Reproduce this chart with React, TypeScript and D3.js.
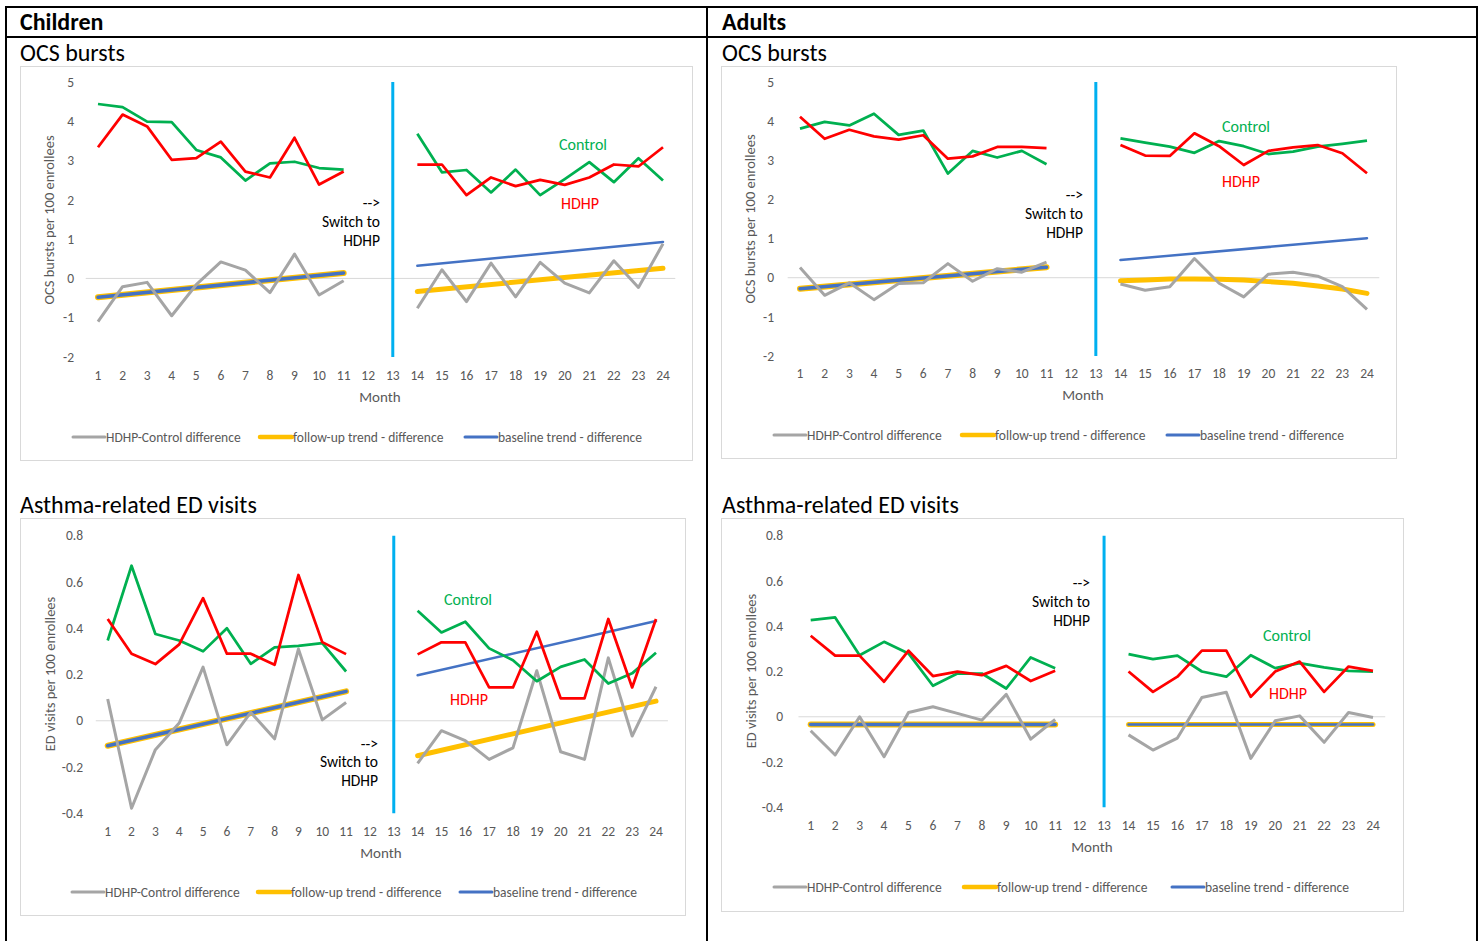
import React from "react";
import * as d3 from "d3";

const MONTHS = d3.range(1, 25);
const PRE_MONTHS = d3.range(1, 12);
const POST_MONTHS = d3.range(14, 25);

// ---------- Children: OCS bursts ----------
const C_OCS_HDHP_PRE = [3.34, 4.17, 3.87, 3.02, 3.06, 3.48, 2.72, 2.57, 3.58, 2.39, 2.72];
const C_OCS_HDHP_POST = [2.9, 2.9, 2.12, 2.57, 2.35, 2.51, 2.38, 2.57, 2.9, 2.85, 3.34];
const C_OCS_CTRL_PRE = [4.44, 4.36, 3.99, 3.98, 3.27, 3.08, 2.49, 2.93, 2.97, 2.81, 2.77];
const C_OCS_CTRL_POST = [3.68, 2.7, 2.76, 2.19, 2.77, 2.12, 2.53, 2.96, 2.45, 3.06, 2.49];
const C_OCS_DIFF_PRE = [-1.1, -0.21, -0.1, -0.95, -0.16, 0.42, 0.21, -0.36, 0.62, -0.42, -0.06];
const C_OCS_DIFF_POST = [-0.76, 0.22, -0.59, 0.39, -0.47, 0.41, -0.12, -0.37, 0.45, -0.23, 0.88];
const C_OCS_BASE = [[1, -0.48], [11, 0.14], [14, 0.32], [24, 0.93]];
const C_OCS_FOLLOW = [[1, -0.48], [11, 0.14], [14, -0.33], [24, 0.26]];

// ---------- Adults: OCS bursts ----------
const A_OCS_HDHP_PRE = [4.11, 3.55, 3.78, 3.61, 3.53, 3.64, 3.04, 3.1, 3.34, 3.34, 3.31];
const A_OCS_HDHP_POST = [3.39, 3.12, 3.11, 3.69, 3.36, 2.88, 3.24, 3.33, 3.39, 3.18, 2.67];
const A_OCS_CTRL_PRE = [3.81, 3.98, 3.89, 4.19, 3.65, 3.76, 2.66, 3.24, 3.07, 3.24, 2.9];
const A_OCS_CTRL_POST = [3.56, 3.45, 3.35, 3.19, 3.49, 3.36, 3.16, 3.22, 3.35, 3.42, 3.5];
const A_OCS_DIFF_PRE = [0.26, -0.45, -0.13, -0.56, -0.15, -0.13, 0.36, -0.09, 0.23, 0.14, 0.4];
const A_OCS_DIFF_POST = [-0.16, -0.32, -0.23, 0.49, -0.14, -0.49, 0.09, 0.14, 0.04, -0.23, -0.81];
const A_OCS_BASE = [[1, -0.28], [11, 0.27], [14, 0.45], [24, 1.01]];
const A_OCS_FOLLOW_PRE = [[1, -0.28], [11, 0.27]];
const A_OCS_FOLLOW_POST = [-0.08, -0.06, -0.03, -0.03, -0.04, -0.06, -0.1, -0.14, -0.21, -0.29, -0.4];

// ---------- Children: Asthma-related ED visits ----------
const C_ED_HDHP_PRE = [0.44, 0.29, 0.245, 0.33, 0.53, 0.29, 0.29, 0.242, 0.63, 0.34, 0.288];
const C_ED_HDHP_POST = [0.287, 0.339, 0.339, 0.144, 0.144, 0.385, 0.097, 0.097, 0.44, 0.144, 0.44];
const C_ED_CTRL_PRE = [0.347, 0.67, 0.375, 0.347, 0.3, 0.4, 0.246, 0.317, 0.324, 0.336, 0.213];
const C_ED_CTRL_POST = [0.476, 0.382, 0.428, 0.313, 0.262, 0.171, 0.233, 0.265, 0.161, 0.205, 0.294];
const C_ED_DIFF_PRE = [0.094, -0.378, -0.125, -0.01, 0.232, -0.104, 0.036, -0.078, 0.31, 0.004, 0.079];
const C_ED_DIFF_POST = [-0.184, -0.043, -0.086, -0.167, -0.117, 0.216, -0.134, -0.167, 0.272, -0.066, 0.147];
const C_ED_BASE = [[1, -0.108], [11, 0.127], [14, 0.197], [24, 0.431]];
const C_ED_FOLLOW = [[1, -0.108], [11, 0.127], [14, -0.151], [24, 0.085]];

// ---------- Adults: Asthma-related ED visits ----------
const A_ED_HDHP_PRE = [0.358, 0.27, 0.27, 0.155, 0.292, 0.18, 0.199, 0.184, 0.225, 0.158, 0.203];
const A_ED_HDHP_POST = [0.2, 0.11, 0.177, 0.292, 0.292, 0.088, 0.2, 0.244, 0.11, 0.222, 0.203];
const A_ED_CTRL_PRE = [0.427, 0.439, 0.272, 0.331, 0.28, 0.137, 0.191, 0.191, 0.125, 0.262, 0.214];
const A_ED_CTRL_POST = [0.277, 0.255, 0.27, 0.2, 0.177, 0.272, 0.215, 0.237, 0.218, 0.203, 0.199];
const A_ED_DIFF_PRE = [-0.062, -0.169, 0.0, -0.177, 0.019, 0.044, 0.015, -0.015, 0.099, -0.099, -0.012];
const A_ED_DIFF_POST = [-0.08, -0.147, -0.094, 0.085, 0.108, -0.184, -0.018, 0.004, -0.113, 0.019, -0.003];
const A_ED_BASE = [[1, -0.034], [11, -0.034], [14, -0.034], [24, -0.034]];
const A_ED_FOLLOW = [[1, -0.034], [11, -0.034], [14, -0.034], [24, -0.034]];

const OCS_TICKS = [-2, -1, 0, 1, 2, 3, 4, 5];
const ED_TICKS = [-0.4, -0.2, 0, 0.2, 0.4, 0.6, 0.8];

const LEGEND = ["HDHP-Control difference", "follow-up trend - difference", "baseline trend - difference"];

const COLORS = {
  hdhp: "#FF0000",
  ctrl: "#00B050",
  diff: "#A5A5A5",
  follow: "#FFC000",
  base: "#4472C4",
  switch: "#00B0F0",
  tick: "#595959",
  grid: "#D9D9D9",
};

const FONT = "Carlito, Lato, 'Open Sans', sans-serif";

type Pt = [number, number];
const pre = (vals: number[]): Pt[] => vals.map((v, i) => [PRE_MONTHS[i], v]);
const post = (vals: number[]): Pt[] => vals.map((v, i) => [POST_MONTHS[i], v]);

interface PanelCfg {
  box: [number, number, number, number];
  xr: [number, number];
  yd: [number, number];
  yr: [number, number];
  ticks: number[];
  tickRight: number;
  monthY: number;
  monthTitle: [number, number];
  yTitle: string;
  yTitlePos: [number, number];
  legendY: number;
  legendX: number[];
  notes: [number, number, number, number];
  ctrlLabel: [number, number];
  hdhpLabel: [number, number];
  hdhp: [number[], number[]];
  ctrl: [number[], number[]];
  diff: [number[], number[]];
  base: Pt[][];
  follow: Pt[][];
}

const PANELS: PanelCfg[] = [
  {
    box: [20, 66, 672, 394],
    xr: [98, 663],
    yd: [-2, 5],
    yr: [357, 82],
    ticks: OCS_TICKS,
    tickRight: 74,
    monthY: 375,
    monthTitle: [380, 397],
    yTitle: "OCS bursts per 100 enrollees",
    yTitlePos: [49, 220],
    legendY: 437,
    legendX: [73, 260, 465],
    notes: [380, 203, 222, 241],
    ctrlLabel: [583, 144],
    hdhpLabel: [580, 203],
    hdhp: [C_OCS_HDHP_PRE, C_OCS_HDHP_POST],
    ctrl: [C_OCS_CTRL_PRE, C_OCS_CTRL_POST],
    diff: [C_OCS_DIFF_PRE, C_OCS_DIFF_POST],
    base: [C_OCS_BASE.slice(0, 2) as Pt[], C_OCS_BASE.slice(2) as Pt[]],
    follow: [C_OCS_FOLLOW.slice(0, 2) as Pt[], C_OCS_FOLLOW.slice(2) as Pt[]],
  },
  {
    box: [721, 66, 675, 392],
    xr: [800, 1367],
    yd: [-2, 5],
    yr: [356, 82],
    ticks: OCS_TICKS,
    tickRight: 774,
    monthY: 373,
    monthTitle: [1083, 395],
    yTitle: "OCS bursts per 100 enrollees",
    yTitlePos: [750, 219],
    legendY: 435,
    legendX: [774, 962, 1167],
    notes: [1083, 195, 214, 233],
    ctrlLabel: [1246, 126],
    hdhpLabel: [1241, 181],
    hdhp: [A_OCS_HDHP_PRE, A_OCS_HDHP_POST],
    ctrl: [A_OCS_CTRL_PRE, A_OCS_CTRL_POST],
    diff: [A_OCS_DIFF_PRE, A_OCS_DIFF_POST],
    base: [A_OCS_BASE.slice(0, 2) as Pt[], A_OCS_BASE.slice(2) as Pt[]],
    follow: [A_OCS_FOLLOW_PRE as Pt[], post(A_OCS_FOLLOW_POST)],
  },
  {
    box: [20, 518, 665, 397],
    xr: [107.7, 656],
    yd: [-0.4, 0.8],
    yr: [813.3, 535.7],
    ticks: ED_TICKS,
    tickRight: 83,
    monthY: 831,
    monthTitle: [381, 853],
    yTitle: "ED visits per 100 enrollees",
    yTitlePos: [50, 674],
    legendY: 892,
    legendX: [72, 258, 460],
    notes: [378, 744, 762, 781],
    ctrlLabel: [468, 599],
    hdhpLabel: [469, 699],
    hdhp: [C_ED_HDHP_PRE, C_ED_HDHP_POST],
    ctrl: [C_ED_CTRL_PRE, C_ED_CTRL_POST],
    diff: [C_ED_DIFF_PRE, C_ED_DIFF_POST],
    base: [C_ED_BASE.slice(0, 2) as Pt[], C_ED_BASE.slice(2) as Pt[]],
    follow: [C_ED_FOLLOW.slice(0, 2) as Pt[], C_ED_FOLLOW.slice(2) as Pt[]],
  },
  {
    box: [721, 518, 682, 393],
    xr: [810.7, 1373],
    yd: [-0.4, 0.8],
    yr: [807.3, 535.7],
    ticks: ED_TICKS,
    tickRight: 783,
    monthY: 825,
    monthTitle: [1092, 847],
    yTitle: "ED visits per 100 enrollees",
    yTitlePos: [751, 671],
    legendY: 887,
    legendX: [774, 964, 1172],
    notes: [1090, 583, 602, 621],
    ctrlLabel: [1287, 635],
    hdhpLabel: [1288, 693],
    hdhp: [A_ED_HDHP_PRE, A_ED_HDHP_POST],
    ctrl: [A_ED_CTRL_PRE, A_ED_CTRL_POST],
    diff: [A_ED_DIFF_PRE, A_ED_DIFF_POST],
    base: [A_ED_BASE.slice(0, 2) as Pt[], A_ED_BASE.slice(2) as Pt[]],
    follow: [A_ED_FOLLOW.slice(0, 2) as Pt[], A_ED_FOLLOW.slice(2) as Pt[]],
  },
];

const fmt = (v: number) => String(+v.toFixed(1));

function Panel({ c }: { c: PanelCfg }) {
  const x = d3.scaleLinear().domain([1, 24]).range(c.xr);
  const y = d3.scaleLinear().domain(c.yd).range(c.yr);
  const step = x(2) - x(1);
  const line = d3
    .line<Pt>()
    .x((d) => x(d[0]))
    .y((d) => y(d[1]));
  const [bx, by, bw, bh] = c.box;
  const legendColors = [COLORS.diff, COLORS.follow, COLORS.base];
  const legendW = [3, 4.5, 3];
  return (
    <g fontFamily={FONT}>
      <rect x={bx + 0.5} y={by + 0.5} width={bw} height={bh} fill="#fff" stroke={COLORS.grid} strokeWidth={1} />
      {c.ticks.map((t) => (
        <text key={t} x={c.tickRight} y={y(t)} dy="0.35em" textAnchor="end" fontSize={13.5} fill={COLORS.tick}>
          {fmt(t)}
        </text>
      ))}
      <line x1={x(1) - step / 2} x2={x(24) + step / 2} y1={y(0)} y2={y(0)} stroke={COLORS.grid} strokeWidth={1} />
      {MONTHS.map((m) => (
        <text key={m} x={x(m)} y={c.monthY} dy="0.35em" textAnchor="middle" fontSize={13.5} fill={COLORS.tick}>
          {m}
        </text>
      ))}
      <text x={c.monthTitle[0]} y={c.monthTitle[1]} dy="0.35em" textAnchor="middle" fontSize={15} fill={COLORS.tick}>
        Month
      </text>
      <text
        transform={`translate(${c.yTitlePos[0]},${c.yTitlePos[1]}) rotate(-90)`}
        textAnchor="middle"
        dy="0.35em"
        fontSize={14.5}
        fill={COLORS.tick}
      >
        {c.yTitle}
      </text>
      <line x1={x(13)} x2={x(13)} y1={y(c.yd[1])} y2={y(c.yd[0])} stroke={COLORS.switch} strokeWidth={3} />
      {c.follow.map((s, i) => (
        <path key={"f" + i} d={line(s) || ""} fill="none" stroke={COLORS.follow} strokeWidth={i === 0 ? 6 : 5} strokeLinecap="round" />
      ))}
      {c.base.map((s, i) => (
        <path key={"b" + i} d={line(s) || ""} fill="none" stroke={COLORS.base} strokeWidth={i === 0 ? 3.5 : 2.5} strokeLinecap="round" />
      ))}
      {[pre(c.diff[0]), post(c.diff[1])].map((s, i) => (
        <path key={"d" + i} d={line(s) || ""} fill="none" stroke={COLORS.diff} strokeWidth={3} strokeLinejoin="round" />
      ))}
      {[pre(c.ctrl[0]), post(c.ctrl[1])].map((s, i) => (
        <path key={"c" + i} d={line(s) || ""} fill="none" stroke={COLORS.ctrl} strokeWidth={2.75} strokeLinejoin="round" />
      ))}
      {[pre(c.hdhp[0]), post(c.hdhp[1])].map((s, i) => (
        <path key={"h" + i} d={line(s) || ""} fill="none" stroke={COLORS.hdhp} strokeWidth={2.75} strokeLinejoin="round" />
      ))}
      <text x={c.notes[0]} y={c.notes[1]} dy="0.35em" textAnchor="end" fontSize={15.5} fill="#000">
        {"-->"}
      </text>
      <text x={c.notes[0]} y={c.notes[2]} dy="0.35em" textAnchor="end" fontSize={15.5} fill="#000">
        Switch to
      </text>
      <text x={c.notes[0]} y={c.notes[3]} dy="0.35em" textAnchor="end" fontSize={15.5} fill="#000">
        HDHP
      </text>
      <text x={c.ctrlLabel[0]} y={c.ctrlLabel[1]} dy="0.35em" textAnchor="middle" fontSize={16} fill={COLORS.ctrl}>
        Control
      </text>
      <text x={c.hdhpLabel[0]} y={c.hdhpLabel[1]} dy="0.35em" textAnchor="middle" fontSize={16} fill={COLORS.hdhp}>
        HDHP
      </text>
      {LEGEND.map((name, i) => (
        <g key={name}>
          <line
            x1={c.legendX[i]}
            x2={c.legendX[i] + 32}
            y1={c.legendY}
            y2={c.legendY}
            stroke={legendColors[i]}
            strokeWidth={legendW[i]}
            strokeLinecap="round"
          />
          <text x={c.legendX[i] + 33} y={c.legendY} dy="0.35em" fontSize={13.5} fill={COLORS.tick}>
            {name}
          </text>
        </g>
      ))}
    </g>
  );
}

export default function App() {
  return (
    <svg
      width={1483}
      height={941}
      style={{ position: "absolute", left: 0, top: 0, background: "#fff" }}
      fontFamily={FONT}
    >
      <rect x={0} y={0} width={1483} height={941} fill="#fff" />
      <g stroke="#000" strokeWidth={2}>
        <line x1={6} x2={1478} y1={7} y2={7} />
        <line x1={6} x2={1478} y1={37} y2={37} />
        <line x1={6} x2={6} y1={6} y2={941} />
        <line x1={707} x2={707} y1={6} y2={941} />
        <line x1={1477} x2={1477} y1={6} y2={941} />
      </g>
      <text x={20} y={30} fontSize={24} fontWeight="bold" fill="#000">
        Children
      </text>
      <text x={722} y={30} fontSize={24} fontWeight="bold" fill="#000">
        Adults
      </text>
      <text x={20} y={61} fontSize={24} fill="#000">
        OCS bursts
      </text>
      <text x={722} y={61} fontSize={24} fill="#000">
        OCS bursts
      </text>
      <text x={20} y={513} fontSize={24} fill="#000">
        Asthma-related ED visits
      </text>
      <text x={722} y={513} fontSize={24} fill="#000">
        Asthma-related ED visits
      </text>
      {PANELS.map((p, i) => (
        <Panel key={i} c={p} />
      ))}
    </svg>
  );
}
